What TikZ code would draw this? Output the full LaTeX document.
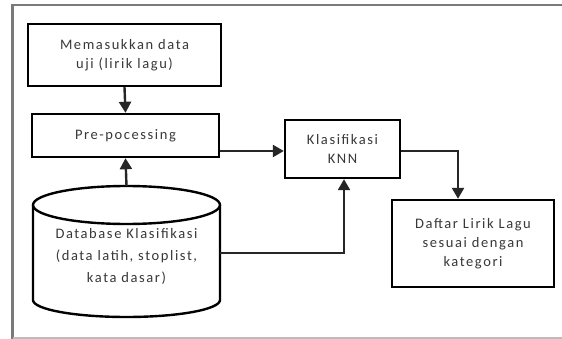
\documentclass[tikz,border=0pt]{standalone}
\usepackage{fontspec}
\setmainfont{Carlito}[LetterSpace=11]
\usetikzlibrary{arrows.meta}
\definecolor{txt}{HTML}{383838}
\definecolor{frame}{HTML}{7A7A7A}
\tikzset{
  box/.style={draw=black, line width=2.4pt, minimum width=#1, align=center, text=txt, font=\fontsize{14.5}{19}\selectfont, inner sep=0pt},
  conn/.style={draw=black!85, line width=2.4pt},
  arr/.style={conn, -{Triangle[length=11pt,width=12pt]}}
}
\begin{document}
\begin{tikzpicture}[x=1pt,y=-1pt]
\useasboundingbox (0,0) rectangle (562,339);
\fill[white] (0,0) rectangle (562,339);
% frame
\draw[frame, line width=2.2pt] (12.5,339) -- (12.5,5) -- (562,5);
\draw[frame!50, line width=1.5pt] (12.5,338) -- (562,338);
% boxes
\node[box=193pt, minimum height=62pt] (inp) at (124.5,55) {Memasukkan data\\uji (lirik lagu)};
\node[box=187pt, minimum height=43pt] (pre) at (125.5,135.5) {Pre-pocessing};
\node[box=115pt, minimum height=58pt] (knn) at (342.5,149) {Klasifikasi\\KNN};
\node[box=162pt, minimum height=87pt] (out) at (473,243.5) {Daftar Lirik Lagu\\sesuai dengan\\kategori};
% cylinder
\coordinate (dbtop) at (126.5,186);
\coordinate (dbright) at (220,253);
\draw[line width=2.4pt] (33,205) -- (33,300) arc[start angle=180, end angle=360, x radius=93.5, y radius=-17] -- (220,205);
\draw[line width=2.4pt] (126.5,205) ellipse[x radius=93.5, y radius=19];
\node[align=center, text=txt, font=\fontsize{14.5}{22}\selectfont, inner sep=0pt] (db) at (126.5,256) {Database Klasifikasi\\(data latih, stoplist,\\kata dasar)};
% connectors
\draw[arr] (inp.south) -- (pre.north);
\draw[arr] (dbtop) -- (pre.south);
\draw[arr] (pre.east |- 0,151) -- (knn.west |- 0,151);
\draw[arr] (dbright) -| (344,0 |- knn.south);
\draw[arr] (knn.east |- 0,151) -| (out.north -| 458,0);
\end{tikzpicture}
\end{document}
